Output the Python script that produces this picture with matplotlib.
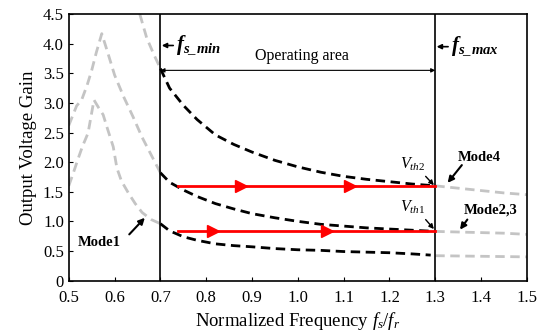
import numpy as np
import matplotlib.pyplot as plt
from matplotlib.ticker import FuncFormatter

plt.rcParams['font.family'] = ['Liberation Serif', 'DejaVu Serif']
plt.rcParams['mathtext.fontset'] = 'custom'
plt.rcParams['mathtext.rm'] = 'Liberation Serif'
plt.rcParams['mathtext.it'] = 'Liberation Serif:italic'
plt.rcParams['mathtext.bf'] = 'Liberation Serif:bold:italic'

# operating area curves (black dashed)
x_op = [0.70, 0.72, 0.75, 0.78, 0.82, 0.86, 0.90, 0.95, 1.00, 1.05, 1.10, 1.15, 1.20, 1.25, 1.30]
y_op_hi = [3.58, 3.25, 2.96, 2.72, 2.46, 2.30, 2.17, 2.03, 1.92, 1.83, 1.76, 1.71, 1.67, 1.63, 1.60]
y_op_mid = [1.82, 1.66, 1.53, 1.42, 1.30, 1.21, 1.13, 1.06, 1.00, 0.95, 0.92, 0.89, 0.87, 0.85, 0.83]
x_op_lo = [0.70, 0.72, 0.75, 0.78, 0.82, 0.86, 0.90, 0.95, 1.00, 1.05, 1.10, 1.15, 1.20, 1.25, 1.29]
y_op_lo = [0.96, 0.84, 0.74, 0.68, 0.62, 0.59, 0.57, 0.54, 0.52, 0.51, 0.49, 0.48, 0.47, 0.45, 0.43]

# outside curves (gray dashed)
x_l_hi = [0.655, 0.67, 0.685, 0.70]
y_l_hi = [4.5, 4.1, 3.83, 3.58]
x_l_mid = [0.50, 0.517, 0.528, 0.54, 0.55, 0.56, 0.572, 0.585, 0.60, 0.62, 0.64, 0.66, 0.68, 0.70]
y_l_mid = [2.62, 2.95, 3.05, 3.30, 3.55, 3.85, 4.17, 3.85, 3.47, 3.10, 2.77, 2.42, 2.12, 1.82]
x_l_lo = [0.50, 0.51, 0.52, 0.53, 0.542, 0.555, 0.565, 0.575, 0.585, 0.597, 0.605, 0.615, 0.63, 0.645, 0.66, 0.68, 0.70]
y_l_lo = [1.60, 1.82, 2.05, 2.27, 2.49, 3.05, 2.92, 2.80, 2.55, 2.26, 1.90, 1.68, 1.48, 1.30, 1.15, 1.03, 0.96]
x_r = [1.30, 1.35, 1.40, 1.45, 1.50]
y_r_hi = [1.60, 1.56, 1.52, 1.48, 1.45]
y_r_mid = [0.83, 0.82, 0.81, 0.80, 0.78]
y_r_lo = [0.42, 0.415, 0.41, 0.405, 0.40]

# red trajectories
red_x = [0.738, 1.30]
red_hi = 1.59
red_lo = 0.83
red_hi_arrows = [0.877, 1.114]
red_lo_arrows = [0.815, 1.063]

f_min, f_max = 0.7, 1.3

fig = plt.figure(figsize=(5.46, 3.36), dpi=100)
ax = fig.add_axes([0.126, 0.165, 0.839, 0.793])

gray = '#c4c4c4'
dash = (0, (3.4, 2.0))
for xs, ys in [(x_l_hi, y_l_hi), (x_l_mid, y_l_mid), (x_l_lo, y_l_lo),
               (x_r, y_r_hi), (x_r, y_r_mid), (x_r, y_r_lo)]:
    ax.plot(xs, ys, color=gray, lw=2.0, linestyle=dash)
for ys in [y_op_hi, y_op_mid]:
    ax.plot(x_op, ys, color='black', lw=2.0, linestyle=dash)
ax.plot(x_op_lo, y_op_lo, color='black', lw=2.0, linestyle=dash)

for yv, arr in [(red_hi, red_hi_arrows), (red_lo, red_lo_arrows)]:
    ax.plot(red_x, [yv, yv], color='red', lw=2.0, zorder=4)
    ax.plot(arr, [yv] * len(arr), linestyle='none', marker='>', color='red',
            markersize=9, zorder=5)

ax.axvline(f_min, color='black', lw=1.2)
ax.axvline(f_max, color='black', lw=1.2)

# operating area
ax.annotate('', xy=(f_min, 3.55), xytext=(f_max, 3.55),
            arrowprops=dict(arrowstyle='<|-|>', color='black', lw=0.8,
                            mutation_scale=6, shrinkA=0, shrinkB=0))
ax.text(1.01, 3.8, 'Operating area', ha='center', va='center', fontsize=11.5)
ax.annotate('', xy=(0.703, 3.97), xytext=(0.728, 3.97),
            arrowprops=dict(arrowstyle='-|>', color='black', lw=1.2,
                            mutation_scale=7, shrinkA=0, shrinkB=0))
ax.text(0.735, 3.97, r'$\mathbf{f_{s\_min}}$', ha='left', va='center', fontsize=15)
ax.annotate('', xy=(1.303, 3.95), xytext=(1.328, 3.95),
            arrowprops=dict(arrowstyle='-|>', color='black', lw=1.2,
                            mutation_scale=7, shrinkA=0, shrinkB=0))
ax.text(1.335, 3.95, r'$\mathbf{f_{s\_max}}$', ha='left', va='center', fontsize=15)

arrow_kw = dict(arrowstyle='-|>', color='black', lw=1.5, mutation_scale=9,
                shrinkA=0, shrinkB=0)
ax.annotate('', xy=(0.666, 1.06), xytext=(0.632, 0.78), arrowprops=arrow_kw)
ax.text(0.567, 0.64, 'Mode1', ha='center', va='center', fontsize=10.5, fontweight='bold')
ax.annotate('', xy=(1.327, 1.65), xytext=(1.358, 1.95), arrowprops=arrow_kw)
ax.text(1.397, 2.08, 'Mode4', ha='center', va='center', fontsize=10.5, fontweight='bold')
ax.annotate('', xy=(1.354, 0.86), xytext=(1.37, 1.03), arrowprops=arrow_kw)
ax.text(1.42, 1.19, 'Mode2,3', ha='center', va='center', fontsize=10.5, fontweight='bold')

thin_kw = dict(arrowstyle='-|>', color='black', lw=1.0, mutation_scale=7,
               shrinkA=0, shrinkB=0)
ax.annotate('', xy=(1.297, 1.61), xytext=(1.279, 1.76), arrowprops=thin_kw)
ax.text(1.25, 1.97, r'$V_{th2}$', ha='center', va='center', fontsize=11.5)
ax.annotate('', xy=(1.297, 0.87), xytext=(1.279, 1.03), arrowprops=thin_kw)
ax.text(1.25, 1.23, r'$V_{th1}$', ha='center', va='center', fontsize=11.5)

ax.set_xlim(0.5, 1.5)
ax.set_ylim(0, 4.5)
ax.set_xticks(np.arange(0.5, 1.51, 0.1))
ax.set_yticks(np.arange(0, 4.51, 0.5))
ax.xaxis.set_major_formatter(FuncFormatter(lambda v, p: f'{v:.1f}'))
ax.yaxis.set_major_formatter(FuncFormatter(lambda v, p: '0' if v == 0 else f'{v:.1f}'))
ax.tick_params(direction='in', length=3, labelsize=12, width=0.8)
ax.tick_params(axis='x', pad=7)
for s in ax.spines.values():
    s.set_linewidth(1.2)
ax.set_xlabel(r'Normalized Frequency $f_s/f_r$', fontsize=13.5, labelpad=3)
ax.set_ylabel('Output Voltage Gain', fontsize=13.5, labelpad=4)

fig.savefig('out.png', dpi=100)
